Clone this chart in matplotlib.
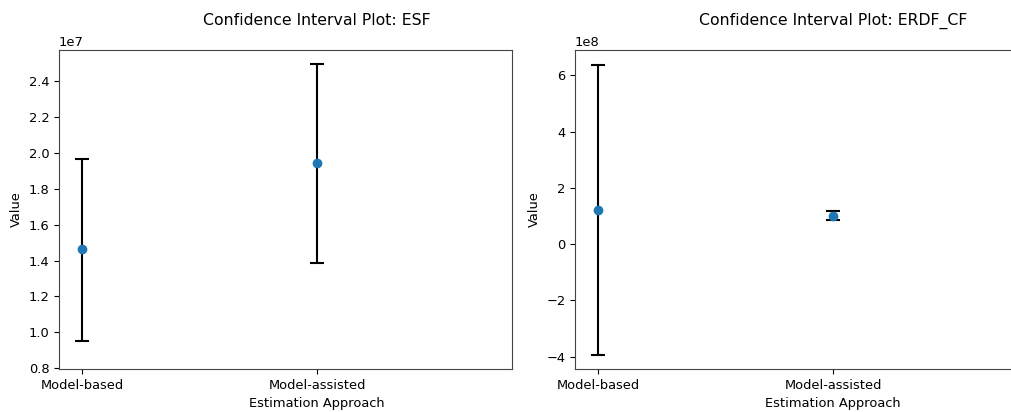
import matplotlib
matplotlib.use("Agg")
import matplotlib.pyplot as plt

categories = ["Model-based", "Model-assisted"]

esf_values = [1.463e7, 1.942e7]
esf_lower = [0.952e7, 1.385e7]
esf_upper = [1.968e7, 2.494e7]

erdf_values = [1.21e8, 1.00e8]
erdf_lower = [-3.95e8, 0.87e8]
erdf_upper = [6.38e8, 1.17e8]

plt.rcParams["font.size"] = 9.4
plt.rcParams["axes.titlesize"] = 11.3

W, H = 1012, 412
fig = plt.figure(figsize=(W / 100, H / 100), dpi=100)

def px_axes(x0, y0, x1, y1):
    return fig.add_axes([x0 / W, 1 - y1 / H, (x1 - x0) / W, (y1 - y0) / H])

ax1 = px_axes(59, 50, 512, 369)
ax2 = px_axes(575, 50, 1028, 369)

XMIN, XMAX = -0.1, 1.83

def draw(ax, title, vals, lo, hi, ylim):
    x = list(range(len(categories)))
    yerr = [[v - l for v, l in zip(vals, lo)], [h - v for v, h in zip(vals, hi)]]
    ax.errorbar(x, vals, yerr=yerr, fmt="o", color="#1f77b4", ecolor="black",
                elinewidth=1.5, capsize=5, capthick=1.5, markersize=6)
    ax.set_xticks(x)
    ax.set_xticklabels(categories)
    ax.set_xlim(XMIN, XMAX)
    ax.set_ylim(*ylim)
    t = ax.set_title(title, pad=18)
    t.set_x((1 - XMIN) / (XMAX - XMIN))
    ax.set_xlabel("Estimation Approach")
    ax.xaxis.label.set_x((1 - XMIN) / (XMAX - XMIN))
    ax.set_ylabel("Value")
    for s in ax.spines.values():
        s.set_edgecolor("#444444")

draw(ax1, "Confidence Interval Plot: ESF", esf_values, esf_lower, esf_upper,
     (0.796e7, 2.573e7))
draw(ax2, "Confidence Interval Plot: ERDF_CF", erdf_values, erdf_lower, erdf_upper,
     (-4.44e8, 6.9e8))

fig.savefig("out.png", dpi=100)
